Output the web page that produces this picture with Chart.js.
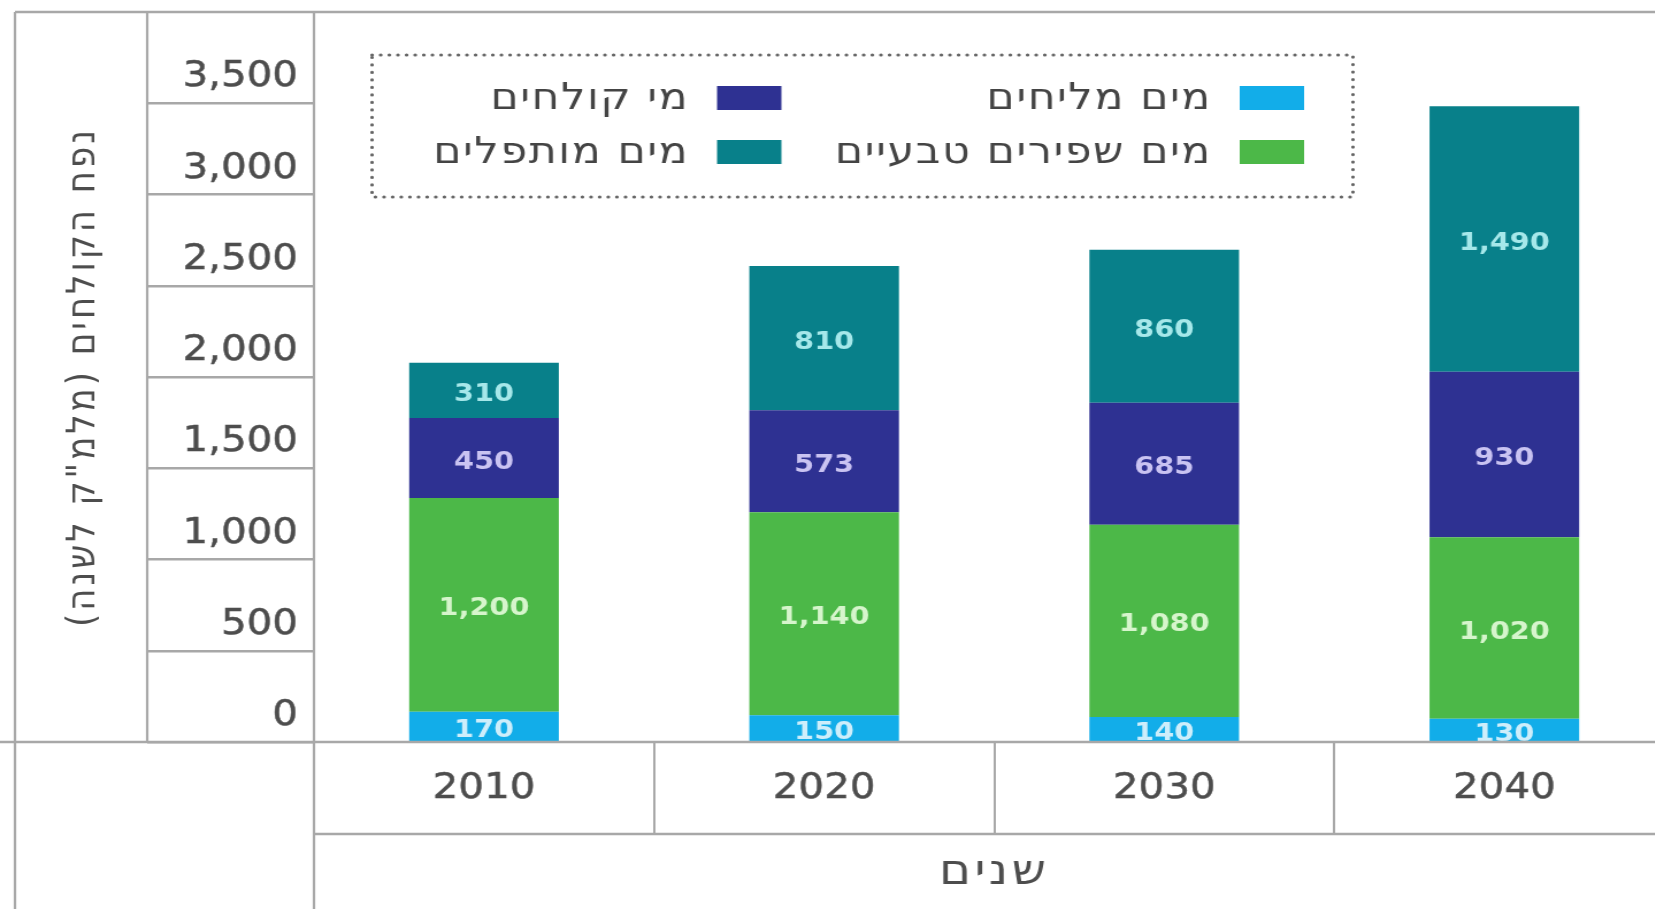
<!DOCTYPE html>
<html lang="he">
<head>
<meta charset="utf-8">
<script src="https://cdn.jsdelivr.net/npm/chart.js@4.4.1/dist/chart.umd.min.js"></script>
<style>
  html, body { margin: 0; padding: 0; background: #fff; overflow: hidden; }
  #wrap { width: 1655px; height: 909px; overflow: hidden; }
  #stretch { transform-origin: 0 0; }
  canvas { display: block; }
</style>
</head>
<body>
<div id="wrap"><div id="stretch"><canvas id="myChart" dir="rtl"></canvas></div></div>
<script>
const years = ['2010', '2020', '2030', '2040'];
const brackish = [170, 150, 140, 130];
const freshNatural = [1200, 1140, 1080, 1020];
const effluent = [450, 573, 685, 930];
const desalinated = [310, 810, 860, 1490];
const yTicks = [0, 500, 1000, 1500, 2000, 2500, 3000, 3500];

const seriesNames = ['מים מליחים', 'מים שפירים טבעיים', 'מי קולחים', 'מים מותפלים'];
const seriesColors = ['#12ade9', '#4cb848', '#2e3192', '#08808a'];
const labelColors = ['#cdeefb', '#d6f5cc', '#c9c3f2', '#a6e8ea'];

const LINE = '#a8a8a8';
const TEXT = '#4d4d4d';

// the source image is stretched sideways, so draw narrower and widen the canvas
const SX = 1.15;
const canvas = document.getElementById('myChart');
canvas.width = Math.round(1675 / SX);
canvas.height = 909;
document.getElementById('stretch').style.transform = `scaleX(${SX})`;

function fmt(v) {
  return Number(v).toLocaleString('en-US');
}

// titles are loosely spaced, tick labels are not (ticks drawn on z=1, after datasets)
const spacing = {
  id: 'spacing',
  beforeDraw(chart) {
    chart.ctx.letterSpacing = '3px';
  },
  afterDatasetsDraw(chart) {
    chart.ctx.letterSpacing = '0px';
  }
};

// table frame around the axes
const tableLines = {
  id: 'tableLines',
  afterDraw(chart) {
    const ctx = chart.ctx;
    const ca = chart.chartArea;
    const yt = chart.scales.yt;
    const x = chart.scales.x;
    const w = chart.width;
    const h = chart.height;
    ctx.save();
    ctx.strokeStyle = LINE;
    const line = (x1, y1, x2, y2, lw) => {
      ctx.lineWidth = lw;
      ctx.beginPath();
      ctx.moveTo(x1, y1);
      ctx.lineTo(x2, y2);
      ctx.stroke();
    };
    line(13, ca.top, w, ca.top, 2.5);
    line(13, ca.top, 13, h, 2.2);
    line(yt.left, ca.top, yt.left, ca.bottom, 2.2);
    line(ca.left, ca.top, ca.left, h, 2.2);
    line(0, ca.bottom, w, ca.bottom, 2.5);
    line(ca.left, x.top + 92, w, x.top + 92, 2.5);
    ctx.restore();
  }
};

// numbers in the middle of each segment
const segmentLabels = {
  id: 'segmentLabels',
  afterDatasetsDraw(chart) {
    const ctx = chart.ctx;
    ctx.save();
    ctx.font = 'bold 25px "DejaVu Sans"';
    ctx.textAlign = 'center';
    ctx.textBaseline = 'middle';
    chart.data.datasets.forEach((ds, i) => {
      const meta = chart.getDatasetMeta(i);
      ctx.fillStyle = labelColors[i];
      meta.data.forEach((bar, j) => {
        ctx.fillText(fmt(ds.data[j]), bar.x, (bar.y + bar.base) / 2 + 4);
      });
    });
    ctx.restore();
  }
};

// dotted legend box, two columns, right to left
const boxLegend = {
  id: 'boxLegend',
  afterDraw(chart) {
    const ctx = chart.ctx;
    ctx.save();
    ctx.strokeStyle = '#666';
    ctx.lineWidth = 3.2;
    ctx.lineCap = 'round';
    ctx.setLineDash([0.1, 7.4]);
    ctx.strokeRect(323.5, 55, 853, 142);
    ctx.setLineDash([]);

    const colX = [1078, 623.5];
    const rowY = [98, 152];
    ctx.font = '37px "DejaVu Sans"';
    ctx.letterSpacing = '1.5px';
    ctx.textAlign = 'right';
    ctx.textBaseline = 'middle';
    ctx.direction = 'rtl';
    chart.data.datasets.forEach((ds, i) => {
      const cx = colX[Math.floor(i / 2)];
      const cy = rowY[i % 2];
      ctx.fillStyle = ds.backgroundColor;
      ctx.fillRect(cx, cy - 12, 56, 24);
      ctx.fillStyle = '#444';
      ctx.fillText(ds.label, cx - 24, cy + 1);
    });
    ctx.restore();
  }
};

const datasets = [brackish, freshNatural, effluent, desalinated].map((vals, i) => ({
  label: seriesNames[i],
  data: vals,
  backgroundColor: seriesColors[i],
  borderWidth: 0,
  barPercentage: 0.44,
  categoryPercentage: 1
}));

const myChart = new Chart(canvas.getContext('2d'), {
  type: 'bar',
  data: {
    labels: years,
    datasets: datasets
  },
  options: {
    responsive: false,
    animation: false,
    devicePixelRatio: 1,
    layout: { padding: { top: 12, left: 0, right: 1, bottom: 0 } },
    plugins: {
      legend: { display: false },
      tooltip: { enabled: false }
    },
    scales: {
      x: {
        stacked: true,
        offset: true,
        grid: {
          offset: true,
          drawOnChartArea: false,
          tickLength: 92,
          color: LINE,
          lineWidth: 2
        },
        border: { display: false },
        ticks: {
          z: 1,
          padding: -66,
          maxRotation: 0,
          color: TEXT,
          textStrokeColor: TEXT,
          textStrokeWidth: 0.5,
          font: { family: 'DejaVu Sans', size: 35 }
        },
        title: {
          display: true,
          text: 'שנים',
          color: TEXT,
          padding: { top: 0, bottom: 11 },
          font: { family: 'DejaVu Sans', size: 42 }
        },
        afterFit(scale) { scale.height = 167; }
      },
      y: {
        stacked: true,
        position: 'left',
        weight: 2,
        min: 0,
        max: 4100,
        grid: { display: false },
        border: { display: false },
        ticks: { display: false },
        title: {
          display: true,
          text: 'נפח הקולחים (מלמ"ק לשנה)',
          color: TEXT,
          padding: { top: 53, bottom: 0 },
          font: { family: 'DejaVu Sans', size: 34 }
        },
        afterFit(scale) { scale.width = 128; }
      },
      yt: {
        position: 'left',
        weight: 1,
        min: 0,
        max: 4000,
        afterBuildTicks(scale) {
          scale.ticks = yTicks.map(v => ({ value: v }));
        },
        grid: {
          drawOnChartArea: false,
          tickLength: 145,
          color: LINE,
          lineWidth: 2.5
        },
        border: { display: false },
        ticks: {
          z: 1,
          autoSkip: false,
          padding: -131,
          labelOffset: -26,
          color: TEXT,
          textStrokeColor: TEXT,
          textStrokeWidth: 0.5,
          font: { family: 'DejaVu Sans', size: 35 },
          callback: (v) => fmt(v)
        },
        afterFit(scale) { scale.width = 145; }
      }
    }
  },
  plugins: [spacing, tableLines, segmentLabels, boxLegend]
});
</script>
</body>
</html>
